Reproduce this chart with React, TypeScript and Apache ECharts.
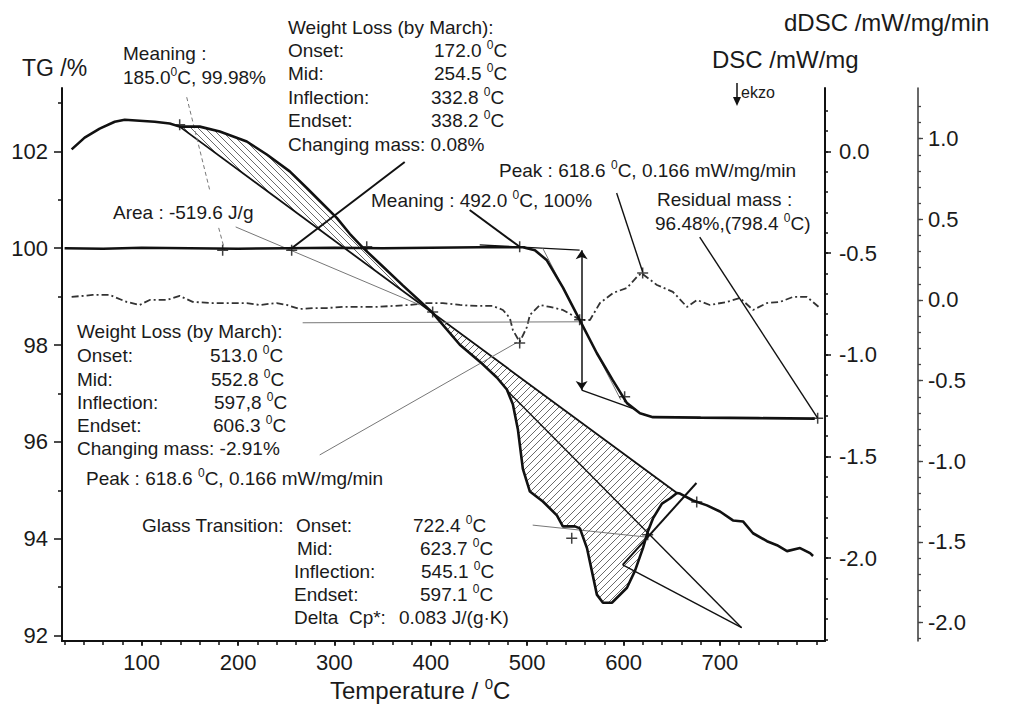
import React, { useEffect, useRef } from 'react';
import * as echarts from 'echarts';

const FONT = "'Liberation Sans', Arial, Helvetica, sans-serif";

// ---- Data ----
// TG curve (left axis, %)
const TG_T = [20, 60, 100, 150, 200, 250, 300, 350, 400, 450, 495.5, 508, 520.4, 537, 554.7, 572.3, 588.9, 603.5, 617, 630.5, 680, 740, 798.4];
const TG_V = [100, 99.99, 100.01, 100, 99.99, 100, 100.01, 100, 100.01, 100.02, 100.02, 99.96, 99.75, 99.19, 98.51, 97.83, 97.27, 96.8, 96.59, 96.51, 96.5, 96.49, 96.48];

// DSC curve (mW/mg)
const DSC_T = [27.3, 40.8, 56.4, 72.0, 82.4, 97.9, 113.5, 129.1, 139.4, 160.2, 181.0, 209.0, 229.8, 253.6, 271.3, 284.8, 302.4, 315.9, 329.4, 350.2, 370.9, 402.1, 430.1, 450.9, 468.5, 478.9, 485.1, 490.3, 495.5, 502.8, 516.3, 530.8, 537.0, 549.5, 554.7, 562.0, 572.3, 578.6, 587.9, 603.5, 611.8, 620.1, 625.3, 630.5, 639.8, 648.1, 655.4, 658.5, 672.0, 686.5, 700.0, 713.5, 723.9, 734.3, 748.8, 759.2, 769.6, 783.1, 793.5, 796.6];
const DSC_V = [0.010, 0.068, 0.112, 0.146, 0.156, 0.151, 0.146, 0.137, 0.122, 0.122, 0.098, 0.049, -0.015, -0.098, -0.180, -0.244, -0.327, -0.405, -0.473, -0.566, -0.659, -0.795, -0.951, -1.034, -1.112, -1.171, -1.244, -1.366, -1.561, -1.673, -1.722, -1.790, -1.844, -1.844, -1.854, -1.951, -2.180, -2.220, -2.220, -2.146, -2.063, -1.951, -1.868, -1.805, -1.732, -1.707, -1.680, -1.683, -1.717, -1.741, -1.771, -1.815, -1.820, -1.878, -1.917, -1.937, -1.966, -1.951, -1.976, -1.990];

// DSC baseline (straight) and the crossing temperature
const BASE_T = [139.4, 655.4];
const BASE_V = [0.122, -1.680];
const CROSS_T = 402.1;

// dDSC curve (mW/mg/min)
const DDSC_T = [27.3, 49.1, 66.8, 84.4, 97.9, 108.3, 126.0, 139.4, 152.9, 173.7, 194.5, 209.0, 222.5, 240.1, 250.5, 264.0, 277.5, 292.0, 308.7, 326.3, 344.0, 360.6, 378.2, 395.9, 412.5, 430.1, 447.8, 464.4, 474.8, 482.0, 485.1, 492.2, 499.7, 502.8, 513.2, 523.5, 537.0, 546.4, 554.7, 565.1, 575.5, 589.0, 603.5, 613.9, 618.6, 634.6, 651.2, 665.8, 676.1, 689.6, 707.3, 720.8, 734.3, 748.8, 762.3, 775.8, 790.3, 803.8];
const DDSC_V = [0.019, 0.031, 0.031, -0.012, -0.031, 0.000, 0.000, 0.025, -0.012, -0.019, -0.019, -0.019, -0.031, -0.019, -0.031, -0.056, -0.050, -0.050, -0.043, -0.043, -0.043, -0.037, -0.031, -0.019, -0.019, -0.031, -0.037, -0.037, -0.062, -0.112, -0.186, -0.260, -0.168, -0.093, -0.031, -0.043, -0.062, -0.093, -0.124, -0.124, -0.019, 0.043, 0.075, 0.143, 0.166, 0.093, 0.050, -0.043, 0.000, -0.031, -0.012, 0.012, -0.062, -0.019, -0.012, 0.019, 0.019, -0.050];

// Tick values
const X_MAJOR = [100, 200, 300, 400, 500, 600, 700];
const X_MINOR = Array.from({ length: 40 }, (_, i) => 20 + i * 20);
const TG_MAJOR = [92, 94, 96, 98, 100, 102];
const TG_MINOR = [93, 95, 97, 99, 101, 103];
const DSC_MAJOR = [-2.0, -1.5, -1.0, -0.5, 0.0];
const DSC_MINOR = Array.from({ length: 27 }, (_, i) => Math.round((-2.4 + i * 0.1) * 10) / 10);
const DDSC_MAJOR = [-2.0, -1.5, -1.0, -0.5, 0.0, 0.5, 1.0];
const DDSC_MINOR = Array.from({ length: 34 }, (_, i) => Math.round((-2.1 + i * 0.1) * 10) / 10);

// Annotation leader lines, in (temperature, TG %) coordinates
const NOTE_LINES: [number, number, number, number, string][] = [
  [146.7, 103.12, 170.6, 101.2, 'dash'],
  [179.9, 100.42, 186.1, 99.96, 'dash'],
  [197.5, 100.44, 388.4, 98.83, 'thin'],
  [255.6, 100.0, 372.9, 101.78, 'bold'],
  [440.3, 100.79, 492.2, 100.03, 'bold'],
  [592.8, 101.14, 619.8, 99.51, 'mid'],
  [679.0, 100.23, 801.4, 96.49, 'mid'],
  [267.0, 98.46, 554.4, 98.48, 'thin'],
  [284.7, 95.73, 489.1, 98.05, 'thin'],
  [505.7, 94.28, 625.0, 94.03, 'thin'],
  [478.7, 97.07, 722.5, 92.16, 'mid'],
  [599.1, 93.46, 675.6, 95.15, 'bold'],
  [599.1, 93.46, 722.5, 92.16, 'mid'],
  [450.7, 100.07, 554.4, 99.96, 'mid'],
  [556.5, 97.07, 613.6, 96.66, 'mid'],
  [516.1, 100.0, 597.0, 96.87, 'thin'],
];
const ARROW_LINE = [556.5, 99.96, 556.5, 97.07];

// "+" markers, in (temperature, TG %) coordinates
const PLUS_T = [184.0, 255.6, 333.5, 492.2, 139.4, 401.9, 546.2, 675.9, 625.0, 554.4, 601.1, 801.4, 492.2, 619.8];
const PLUS_V = [99.96, 99.96, 100.03, 100.03, 102.55, 98.68, 94.01, 94.76, 94.08, 98.52, 96.93, 96.49, 98.04, 99.49];

const zip = (a: number[], b: number[]) => a.map((v, i) => [v, b[i]]);

const LINE_STYLES: Record<string, any> = {
  bold: { color: '#111', width: 2, type: 'solid' },
  mid: { color: '#111', width: 1.4, type: 'solid' },
  thin: { color: '#777', width: 1, type: 'solid' },
  dash: { color: '#777', width: 1, type: [4, 3] },
};

function hatch(dir: 'fwd' | 'back') {
  const d = dir === 'fwd' ? 'M0 7L7 0M-1 1L1 -1M6 8L8 6' : 'M0 0L7 7M-1 6L1 8M6 -1L8 1';
  const svg = `<svg xmlns='http://www.w3.org/2000/svg' width='7' height='7'><path d='${d}' stroke='#6a6a6a' stroke-width='1'/></svg>`;
  return { image: 'data:image/svg+xml;charset=utf-8,' + encodeURIComponent(svg), repeat: 'repeat', imageWidth: 7, imageHeight: 7 };
}

function txt(x: number, y: number, text: string, size = 19) {
  const supSize = Math.round(size * 0.62);
  return {
    type: 'text', x, y, silent: true, z: 100,
    style: {
      text: text.replace(/\^0/g, '{s|0}'),
      fontSize: size, fontFamily: FONT, fill: '#1a1a1a',
      align: 'left', verticalAlign: 'middle', lineHeight: size + 4,
      rich: { s: { fontSize: supSize, fontFamily: FONT, fill: '#1a1a1a', verticalAlign: 'top', lineHeight: supSize } },
    },
  };
}

function buildOption() {
  const dsc = zip(DSC_T, DSC_V);
  const region1 = dsc.filter(p => p[0] >= BASE_T[0] && p[0] <= CROSS_T);
  const region2 = dsc.filter(p => p[0] >= CROSS_T && p[0] <= BASE_T[1]);
  const regionSeries = (pts: number[][], fill: any) => ({
    type: 'custom', xAxisIndex: 0, yAxisIndex: 2, silent: true, z: 1,
    data: [pts[0]],
    renderItem: (_p: any, api: any) => ({
      type: 'polygon',
      shape: { points: pts.map(p => api.coord(p)) },
      style: { fill, stroke: 'none' },
    }),
  });

  const axisLabelBase = { fontSize: 22, fontFamily: FONT, color: '#1a1a1a' };
  const xMin = 17.3, xMax = 809;

  const texts = [
    txt(22, 68, 'TG /%', 23),
    txt(123, 53, 'Meaning :'),
    txt(123, 77, '185.0^0C, 99.98%'),
    txt(288, 27, 'Weight Loss (by March):'),
    txt(288, 50, 'Onset:'), txt(434, 50, '172.0 ^0C'),
    txt(288, 73, 'Mid:'), txt(434, 73, '254.5 ^0C'),
    txt(288, 97, 'Inflection:'), txt(431, 97, '332.8 ^0C'),
    txt(288, 120, 'Endset:'), txt(431, 120, '338.2 ^0C'),
    txt(288, 144, 'Changing mass: 0.08%'),
    txt(784, 22, 'dDSC /mW/mg/min', 24),
    txt(712, 59, 'DSC /mW/mg', 24),
    txt(741, 92, 'ekzo', 16),
    txt(499, 170, 'Peak : 618.6 ^0C, 0.166 mW/mg/min'),
    txt(371, 200, 'Meaning : 492.0 ^0C, 100%'),
    txt(657, 199, 'Residual mass :'),
    txt(655, 223, '96.48%,(798.4 ^0C)'),
    txt(113, 212, 'Area : -519.6 J/g'),
    txt(77, 331, 'Weight Loss (by March):'),
    txt(77, 355, 'Onset:'), txt(210, 355, '513.0 ^0C'),
    txt(77, 379, 'Mid:'), txt(211, 379, '552.8 ^0C'),
    txt(77, 402, 'Inflection:'), txt(214, 402, '597,8 ^0C'),
    txt(77, 425, 'Endset:'), txt(213, 425, '606.3 ^0C'),
    txt(77, 448, 'Changing mass: -2.91%'),
    txt(86, 478, 'Peak : 618.6 ^0C, 0.166 mW/mg/min'),
    txt(142, 525, 'Glass Transition:'),
    txt(296, 525, 'Onset:'), txt(413, 525, '722.4 ^0C'),
    txt(297, 548, 'Mid:'), txt(420, 548, '623.7 ^0C'),
    txt(294, 571, 'Inflection:'), txt(421, 571, '545.1 ^0C'),
    txt(294, 594, 'Endset:'), txt(420, 594, '597.1 ^0C'),
    txt(294, 617, 'Delta  Cp*:'), txt(399, 617, '0.083 J/(g·K)'),
    txt(330, 690, 'Temperature / ^0C', 24),
    { type: 'line', silent: true, shape: { x1: 737, y1: 83, x2: 737, y2: 100 }, style: { stroke: '#111', lineWidth: 1.5 } },
    { type: 'polygon', silent: true, shape: { points: [[733, 97], [741, 97], [737, 106]] }, style: { fill: '#111' } },
  ];

  const markLineData: any[] = NOTE_LINES.map(([x1, y1, x2, y2, k]) => [
    { coord: [x1, y1], lineStyle: LINE_STYLES[k], symbol: 'none' },
    { coord: [x2, y2], symbol: 'none' },
  ]);
  markLineData.push([
    { coord: [ARROW_LINE[0], ARROW_LINE[1]], lineStyle: { color: '#111', width: 1.5, type: 'solid' }, symbol: 'arrow' },
    { coord: [ARROW_LINE[2], ARROW_LINE[3]], symbol: 'arrow' },
  ]);

  return {
    animation: false,
    backgroundColor: '#ffffff',
    grid: { left: 62, right: 186, top: 88, bottom: 64, containLabel: false },
    xAxis: [
      {
        type: 'value', min: xMin, max: xMax, position: 'bottom',
        axisLine: { show: true, onZero: false, lineStyle: { color: '#111', width: 2 } },
        axisTick: { show: true, customValues: X_MAJOR, length: 5, lineStyle: { color: '#111', width: 1.5 } },
        axisLabel: { ...axisLabelBase, customValues: X_MAJOR, margin: 10 },
        splitLine: { show: false },
      },
      {
        type: 'value', min: xMin, max: xMax, position: 'bottom',
        axisLine: { show: false, onZero: false },
        axisTick: { show: true, customValues: X_MINOR, length: 4, lineStyle: { color: '#111', width: 1.5 } },
        axisLabel: { show: false },
        splitLine: { show: false },
      },
    ],
    yAxis: [
      {
        type: 'value', min: 91.886, max: 103.31, position: 'left',
        axisLine: { show: true, onZero: false, lineStyle: { color: '#111', width: 2 } },
        axisTick: { show: true, customValues: TG_MAJOR, length: 8, lineStyle: { color: '#111', width: 1.5 } },
        axisLabel: { ...axisLabelBase, customValues: TG_MAJOR, margin: 14 },
        splitLine: { show: false },
      },
      {
        type: 'value', min: 91.886, max: 103.31, position: 'left',
        axisLine: { show: false, onZero: false },
        axisTick: { show: true, customValues: TG_MINOR, length: 4, lineStyle: { color: '#111', width: 1.5 } },
        axisLabel: { show: false },
        splitLine: { show: false },
      },
      {
        type: 'value', min: -2.408, max: 0.312, position: 'right',
        axisLine: { show: true, onZero: false, lineStyle: { color: '#111', width: 2 } },
        axisTick: { show: true, customValues: DSC_MAJOR, length: 6, lineStyle: { color: '#111', width: 1.5 } },
        axisLabel: { ...axisLabelBase, customValues: DSC_MAJOR, margin: 14, formatter: (v: number) => v.toFixed(1) },
        splitLine: { show: false },
      },
      {
        type: 'value', min: -2.408, max: 0.312, position: 'right',
        axisLine: { show: false, onZero: false },
        axisTick: { show: true, customValues: DSC_MINOR, length: 3, lineStyle: { color: '#111', width: 1.5 } },
        axisLabel: { show: false },
        splitLine: { show: false },
      },
      {
        type: 'value', min: -2.114, max: 1.314, position: 'right', offset: 93,
        axisLine: { show: true, onZero: false, lineStyle: { color: '#444', width: 1.6 } },
        axisTick: { show: true, customValues: DDSC_MAJOR, length: 5, lineStyle: { color: '#444', width: 1.3 } },
        axisLabel: { ...axisLabelBase, customValues: DDSC_MAJOR, margin: 10, formatter: (v: number) => v.toFixed(1) },
        splitLine: { show: false },
      },
      {
        type: 'value', min: -2.114, max: 1.314, position: 'right', offset: 93,
        axisLine: { show: false, onZero: false },
        axisTick: { show: true, customValues: DDSC_MINOR, length: 3, lineStyle: { color: '#444', width: 1.3 } },
        axisLabel: { show: false },
        splitLine: { show: false },
      },
    ],
    graphic: texts,
    series: [
      regionSeries(region1, hatch('back')),
      regionSeries(region2, hatch('fwd')),
      {
        name: 'TG', type: 'line', xAxisIndex: 0, yAxisIndex: 0, data: zip(TG_T, TG_V),
        symbol: 'none', lineStyle: { color: '#111', width: 2.6 }, z: 5,
        markLine: { silent: true, symbol: ['none', 'none'], symbolSize: 9, label: { show: false }, data: markLineData },
      },
      {
        name: 'DSC', type: 'line', xAxisIndex: 0, yAxisIndex: 2, data: dsc,
        symbol: 'none', lineStyle: { color: '#111', width: 2.6 }, z: 5,
      },
      {
        name: 'DSC baseline', type: 'line', xAxisIndex: 0, yAxisIndex: 2, data: zip(BASE_T, BASE_V),
        symbol: 'none', lineStyle: { color: '#111', width: 1.8 }, z: 4,
      },
      {
        name: 'dDSC', type: 'line', xAxisIndex: 0, yAxisIndex: 4, data: zip(DDSC_T, DDSC_V),
        symbol: 'none', lineStyle: { color: '#333', width: 1.8, type: [7, 3, 2, 3] }, z: 4,
      },
      {
        name: 'marks', type: 'scatter', xAxisIndex: 0, yAxisIndex: 0, data: zip(PLUS_T, PLUS_V),
        symbol: 'path://M5 0V10M0 5H10', symbolSize: 11,
        itemStyle: { color: 'transparent', borderColor: '#111', borderWidth: 1.5 }, z: 6, silent: true,
      },
    ],
  };
}

export default function App() {
  const ref = useRef<HTMLDivElement>(null);
  useEffect(() => {
    document.body.style.margin = '0';
    const chart = echarts.init(ref.current!, null, { renderer: 'svg' });
    chart.setOption(buildOption() as any);
    return () => chart.dispose();
  }, []);
  return <div ref={ref} style={{ width: 1011, height: 705 }} />;
}
